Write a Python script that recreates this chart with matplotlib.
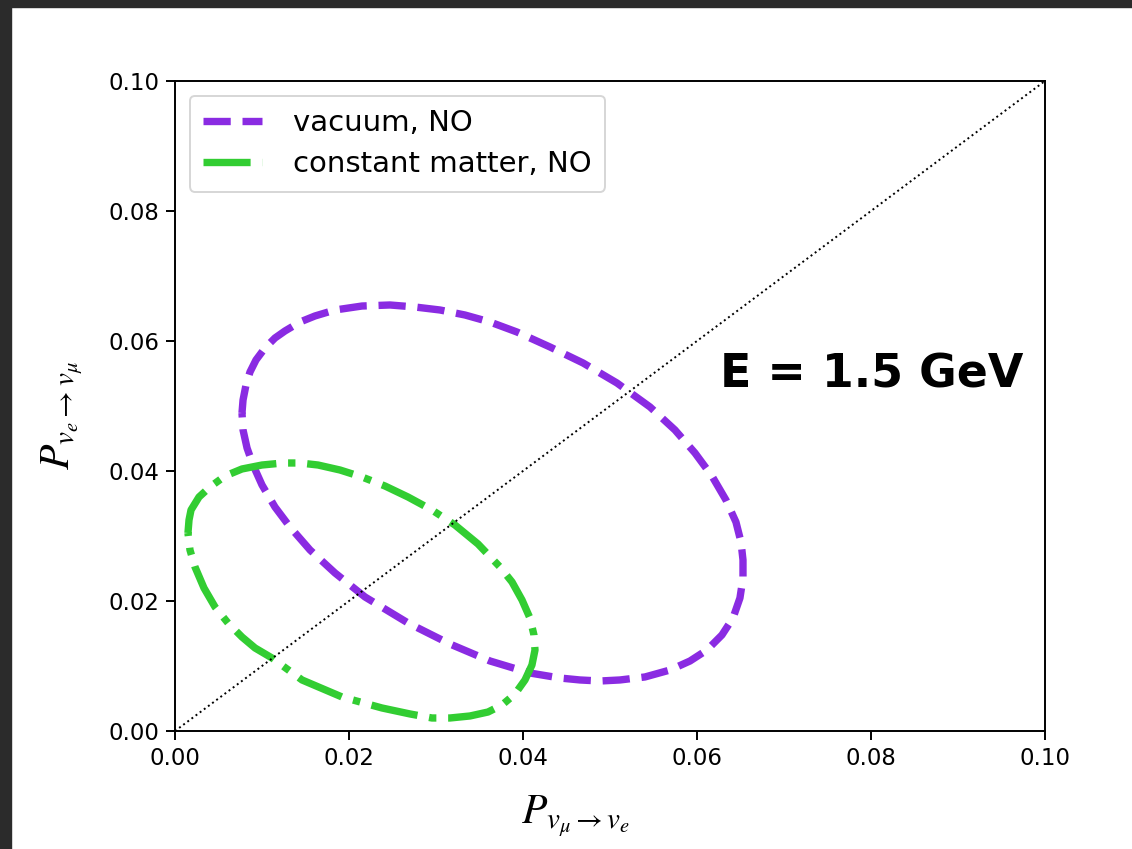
import matplotlib
matplotlib.use("Agg")
import matplotlib.pyplot as plt
from matplotlib.patches import Rectangle

# Oscillation probability contours traced over delta_CP
vac_p_mue = [0.00770, 0.00782, 0.00816, 0.00862, 0.00931, 0.01034, 0.01149, 0.01264,
             0.01437, 0.01609, 0.01839, 0.02149, 0.02471, 0.02759, 0.03046, 0.03333,
             0.03621, 0.03931, 0.04310, 0.04690, 0.05080, 0.05460, 0.05747, 0.05977,
             0.06172, 0.06333, 0.06448, 0.06506, 0.06529, 0.06529, 0.06494, 0.06414,
             0.06287, 0.06115, 0.05920, 0.05690, 0.05402, 0.05115, 0.04885, 0.04655,
             0.04425, 0.04080, 0.03621, 0.03161, 0.02678, 0.02184, 0.01839, 0.01552,
             0.01322, 0.01149, 0.01000, 0.00897, 0.00828, 0.00782, 0.00770]
vac_p_emu = [0.04892, 0.05092, 0.05323, 0.05523, 0.05708, 0.05892, 0.06046, 0.06154,
             0.06292, 0.06385, 0.06477, 0.06538, 0.06554, 0.06523, 0.06477, 0.06400,
             0.06292, 0.06138, 0.05908, 0.05662, 0.05354, 0.04985, 0.04631, 0.04277,
             0.03923, 0.03554, 0.03215, 0.02908, 0.02631, 0.02354, 0.02046, 0.01738,
             0.01477, 0.01246, 0.01077, 0.00938, 0.00831, 0.00785, 0.00769, 0.00785,
             0.00815, 0.00892, 0.01077, 0.01338, 0.01662, 0.02062, 0.02431, 0.02785,
             0.03138, 0.03446, 0.03785, 0.04092, 0.04354, 0.04631, 0.04892]

mat_p_mue = [0.00149, 0.00161, 0.00184, 0.00276, 0.00402, 0.00575, 0.00770, 0.01000,
             0.01241, 0.01437, 0.01644, 0.01897, 0.02149, 0.02414, 0.02678, 0.02954,
             0.03218, 0.03483, 0.03736, 0.03874, 0.03989, 0.04080, 0.04126, 0.04138,
             0.04103, 0.04023, 0.03908, 0.03759, 0.03598, 0.03391, 0.03161, 0.02954,
             0.02701, 0.02379, 0.01920, 0.01460, 0.01115, 0.00920, 0.00770, 0.00609,
             0.00460, 0.00333, 0.00230, 0.00172, 0.00149]
mat_p_emu = [0.03046, 0.03246, 0.03400, 0.03600, 0.03754, 0.03923, 0.04031, 0.04092,
             0.04123, 0.04123, 0.04092, 0.04015, 0.03908, 0.03769, 0.03600, 0.03400,
             0.03169, 0.02877, 0.02523, 0.02292, 0.02015, 0.01738, 0.01477, 0.01246,
             0.01015, 0.00785, 0.00569, 0.00400, 0.00292, 0.00231, 0.00200, 0.00200,
             0.00262, 0.00354, 0.00523, 0.00785, 0.01123, 0.01277, 0.01446, 0.01662,
             0.01908, 0.02200, 0.02523, 0.02785, 0.03046]

diag = [0.0, 0.1]
ticks = [0.00, 0.02, 0.04, 0.06, 0.08, 0.10]
tick_labels = ["0.00", "0.02", "0.04", "0.06", "0.08", "0.10"]

plt.rcParams["mathtext.fontset"] = "stix"

fig = plt.figure(figsize=(11.32, 8.49), dpi=100)
ax = fig.add_axes([0.1546, 0.1390, 0.7685, 0.7656])

ax.plot(vac_p_mue, vac_p_emu, color="#8A2BE2", lw=5.3, ls="--", label="vacuum, NO")
ax.plot(mat_p_mue, mat_p_emu, color="#32CD32", lw=5.3, ls="-.", label="constant matter, NO")
ax.plot(diag, diag, color="black", lw=1.4, ls=":")

ax.set_xlim(0, 0.1)
ax.set_ylim(0, 0.1)
ax.set_xticks(ticks)
ax.set_xticklabels(tick_labels)
ax.set_yticks(ticks)
ax.set_yticklabels(tick_labels)
ax.tick_params(labelsize=16.5, width=1.4, length=6.2, pad=5)
for s in ax.spines.values():
    s.set_linewidth(1.4)

ax.set_xlabel(r"$P_{v_\mu\to v_e}$", fontsize=30)
ax.set_ylabel(r"$P_{v_e\to v_\mu}$", fontsize=30)
ax.xaxis.set_label_coords(0.46, -0.096)
ax.yaxis.set_label_coords(-0.104, 0.486)

ax.text(0.0801, 0.0548, "E = 1.5 GeV", fontsize=33, fontweight="bold",
        ha="center", va="center", family="DejaVu Sans")

leg = ax.legend(loc="upper left", fontsize=21, handlelength=2.0, borderpad=0.47,
                labelspacing=0.45, handletextpad=1.08)
leg.get_frame().set_linewidth(1.4)

# dark window edge at top and left
fig.add_artist(Rectangle((0, 1 - 7 / 849), 1, 7 / 849, transform=fig.transFigure,
                         color="#2b2b2b", zorder=10))
fig.add_artist(Rectangle((0, 0), 11 / 1132, 1, transform=fig.transFigure,
                         color="#2b2b2b", zorder=10))

fig.savefig("out.png", dpi=100)
